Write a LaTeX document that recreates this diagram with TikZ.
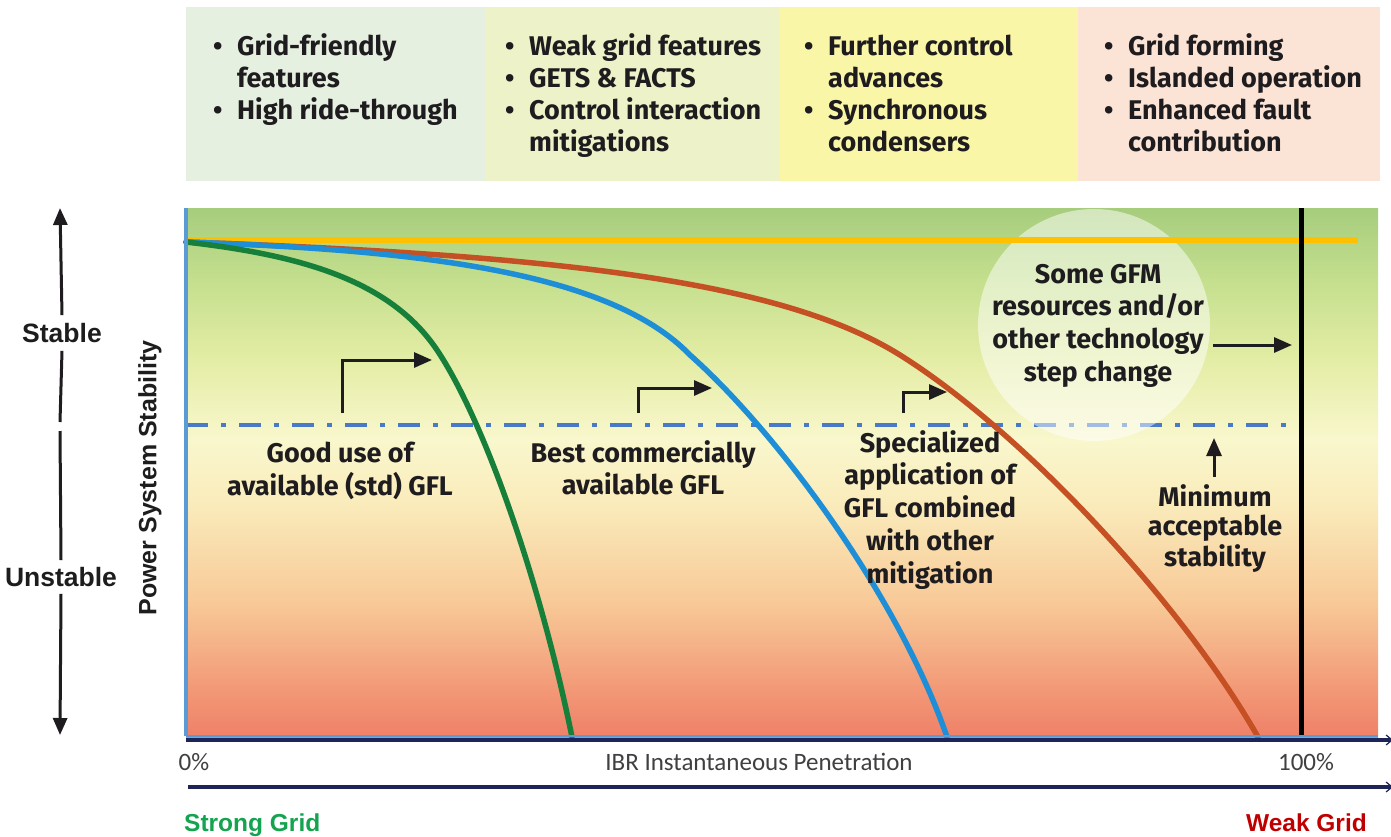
\documentclass[tikz,border=0pt]{standalone}
\usepackage{fontspec}
\setmainfont{Liberation Sans}
\newfontfamily\condf{Fira Sans}
\newfontfamily\axf{Carlito}
\usetikzlibrary{arrows.meta}

% palette
\definecolor{ink}{RGB}{30,28,30}
\definecolor{hdA}{RGB}{230,240,224}
\definecolor{hdB}{RGB}{238,242,200}
\definecolor{hdC}{RGB}{250,246,168}
\definecolor{hdD}{RGB}{251,227,213}
\definecolor{bgA}{RGB}{239,128,104}
\definecolor{bgB}{RGB}{242,152,118}
\definecolor{bgC}{RGB}{248,202,152}
\definecolor{bgD}{RGB}{250,236,188}
\definecolor{bgE}{RGB}{249,247,205}
\definecolor{bgF}{RGB}{228,237,165}
\definecolor{bgG}{RGB}{196,223,142}
\definecolor{bgH}{RGB}{166,205,124}
\definecolor{cGreen}{RGB}{22,128,58}
\definecolor{cBlue}{RGB}{30,142,214}
\definecolor{cRed}{RGB}{196,80,36}
\definecolor{cYellow}{RGB}{255,192,0}
\definecolor{axBlue}{RGB}{90,155,213}
\definecolor{dashBlue}{RGB}{72,122,200}
\definecolor{navy}{RGB}{28,36,88}
\definecolor{axText}{RGB}{64,64,64}
\definecolor{strongG}{RGB}{20,164,80}
\definecolor{weakR}{RGB}{192,0,0}

% vertical backdrop of the stability plot (path box maps to 25bp..75bp)
\pgfdeclareverticalshading{plotbg}{100bp}{color(0bp)=(bgA); color(25bp)=(bgA);
  color(29.4bp)=(bgB); color(37.9bp)=(bgC); color(47.4bp)=(bgD);
  color(53.1bp)=(bgE); color(60.6bp)=(bgF); color(68.2bp)=(bgG);
  color(75bp)=(bgH); color(100bp)=(bgH)}

\newcommand\bl[1]{\makebox[24pt][l]{\textbullet}#1}
\newcommand\cl[1]{\hspace*{24pt}#1}

\begin{document}
\begin{tikzpicture}[x=1pt,y=-1pt,
  hdtext/.style={anchor=base west,inner sep=0,text=ink,
    font=\condf\bfseries\fontsize{27}{32.3}\selectfont},
  lab/.style={anchor=base,inner sep=0,text=ink,
    font=\condf\bfseries\fontsize{27}{32.8}\selectfont},
  curve/.style={line width=5.5pt,line cap=round},
  steparrow/.style={draw=ink,line width=3pt,-{Triangle[length=18pt,width=15pt]}},
  sidearrow/.style={draw=ink,line width=3pt,-{Triangle[length=17pt,width=14pt]}},
  sidelab/.style={font=\bfseries\fontsize{26.5}{30}\selectfont,text=ink,inner xsep=0},
  axlab/.style={font=\axf\fontsize{25}{30}\selectfont,text=axText,inner sep=0,anchor=base},
  navyline/.style={draw=navy,line width=4pt,-{Straight Barb[length=6pt,width=10pt,line width=1.2pt]}}
]
\useasboundingbox (0,0) rectangle (1391,836);
\fill[white] (0,0) rectangle (1391,836);

% ---- header bands ----
\fill[hdA] (186,7) rectangle (485,181);
\fill[hdB] (485,7) rectangle (780,181);
\fill[hdC] (780,7) rectangle (1078,181);
\fill[hdD] (1078,7) rectangle (1380,181);

\node[hdtext] (h1) at (213,55) {\begin{tabular}[t]{@{}l@{}}
  \bl{Grid-friendly}\\ \cl{features}\\ \bl{High ride-through}\end{tabular}};
\node[hdtext] (h2) at (505,55) {\begin{tabular}[t]{@{}l@{}}
  \bl{Weak grid features}\\ \bl{GETS \& FACTS}\\ \bl{Control interaction}\\ \cl{mitigations}\end{tabular}};
\node[hdtext] (h3) at (804,55) {\begin{tabular}[t]{@{}l@{}}
  \bl{Further control}\\ \cl{advances}\\ \bl{Synchronous}\\ \cl{condensers}\end{tabular}};
\node[hdtext] (h4) at (1104,55) {\begin{tabular}[t]{@{}l@{}}
  \bl{Grid forming}\\ \bl{Islanded operation}\\ \bl{Enhanced fault}\\ \cl{contribution}\end{tabular}};

% ---- plot area ----
\shade[shading=plotbg] (186,208) rectangle (1378,737);

% minimum acceptable stability level
\coordinate (dl) at (186,425);
\coordinate (dr) at (1292,425);
\draw[dashBlue,line width=4pt,dash pattern=on 22pt off 13pt on 5pt off 13pt] (dl) -- (dr);

% soft highlight disc
\node[circle,fill=white,fill opacity=0.5,minimum size=232pt,inner sep=0] (gfm) at (1094,325) {};

% reference (synchronous) stability level
\coordinate (yl) at (186,240);
\coordinate (yr) at (1358,240);
\draw[cYellow,line width=5.5pt] (yl) -- (yr);

% stability curves
\coordinate (o) at (186,242);
\draw[cRed,curve] (o) .. controls (550,255) and (780,280) .. (900,355)
  .. controls (1020,430) and (1180,600) .. (1258,737);
\draw[cBlue,curve] (o) .. controls (420,250) and (610,272) .. (690,355)
  .. controls (780,435) and (900,600) .. (947,737);
\draw[cGreen,curve] (o) .. controls (300,255) and (390,280) .. (437,350)
  .. controls (484,420) and (540,580) .. (572,737);

% 100% penetration limit
\coordinate (vt) at (1301,208);
\coordinate (vb) at (1301,737);
\draw[black,line width=5pt] (vt) -- (vb);

% axes frame
\coordinate (at) at (186,208);
\coordinate (ab) at (186,736);
\coordinate (ar) at (1378,736);
\draw[axBlue,line width=4.5pt] (at) -- (ab);
\draw[axBlue,line width=2.5pt] (ab) -- (ar);
\coordinate (n1l) at (186,740);
\coordinate (n1r) at (1393,740);
\draw[navyline] (n1l) -- (n1r);
\coordinate (n2l) at (188,787);
\coordinate (n2r) at (1393,787);
\draw[navyline] (n2l) -- (n2r);

% step arrows
\coordinate (s1a) at (342,413); \coordinate (s1b) at (432,360);
\draw[steparrow] (s1a) |- (s1b);
\coordinate (s2a) at (638,413); \coordinate (s2b) at (712,388);
\draw[steparrow] (s2a) |- (s2b);
\coordinate (s3a) at (903,413); \coordinate (s3b) at (947,392);
\draw[steparrow] (s3a) |- (s3b);

% labels inside the plot
\node[lab] (l1) at (340,462) {\begin{tabular}[t]{@{}c@{}}Good use of\\available (std) GFL\end{tabular}};
\node[lab] (l2) at (643,462) {\begin{tabular}[t]{@{}c@{}}Best commercially\\available GFL\end{tabular}};
\node[lab] (l3) at (930,452) {\begin{tabular}[t]{@{}c@{}}Specialized\\application of\\GFL combined\\with other\\mitigation\end{tabular}};
\node[lab,font=\condf\bfseries\fontsize{27}{29.5}\selectfont] (l4) at (1215,506)
  {\begin{tabular}[t]{@{}c@{}}Minimum\\acceptable\\stability\end{tabular}};
\node[lab] (l5) at (1098,283) {\begin{tabular}[t]{@{}c@{}}Some GFM\\resources and/or\\other technology\\step change\end{tabular}};

\coordinate (ma) at (1214,477);
\coordinate (mb) at (1214,438);
\draw[steparrow] (ma) -- (mb);
\coordinate (ga) at (1213,345);
\coordinate (gb) at (1292,345);
\draw[steparrow] (ga) -- (gb);

% stability scale on the left
\node[sidelab,inner ysep=8pt] (stable) at (62,333) {Stable};
\node[sidelab,inner ysep=7pt] (unstable) at (61,577) {Unstable};
\coordinate (ytop) at (60,208);
\coordinate (ybot) at (60,735);
\coordinate (gapu) at (60,422);
\coordinate (gapd) at (60,431);
\draw[sidearrow] (stable.north) -- (ytop);
\draw[draw=ink,line width=3pt] (stable.south) -- (gapu);
\draw[draw=ink,line width=3pt] (gapd) -- (unstable.north);
\draw[sidearrow] (unstable.south) -- (ybot);

\node[rotate=90,font=\bfseries\fontsize{25}{30}\selectfont,text=ink] (pss) at (150,478) {Power System Stability};

% horizontal axis captions
\node[axlab] (p0) at (194,770) {0\%};
\node[axlab] (pt) at (759,770) {IBR Instantaneous Penetration};
\node[axlab] (p100) at (1306,770) {100\%};
\node[font=\bfseries\fontsize{24.5}{28}\selectfont,text=strongG,anchor=base west,inner sep=0] (sg) at (184,831) {Strong Grid};
\node[font=\bfseries\fontsize{24.5}{28}\selectfont,text=weakR,anchor=base east,inner sep=0] (wg) at (1367,831) {Weak Grid};
\end{tikzpicture}
\end{document}
